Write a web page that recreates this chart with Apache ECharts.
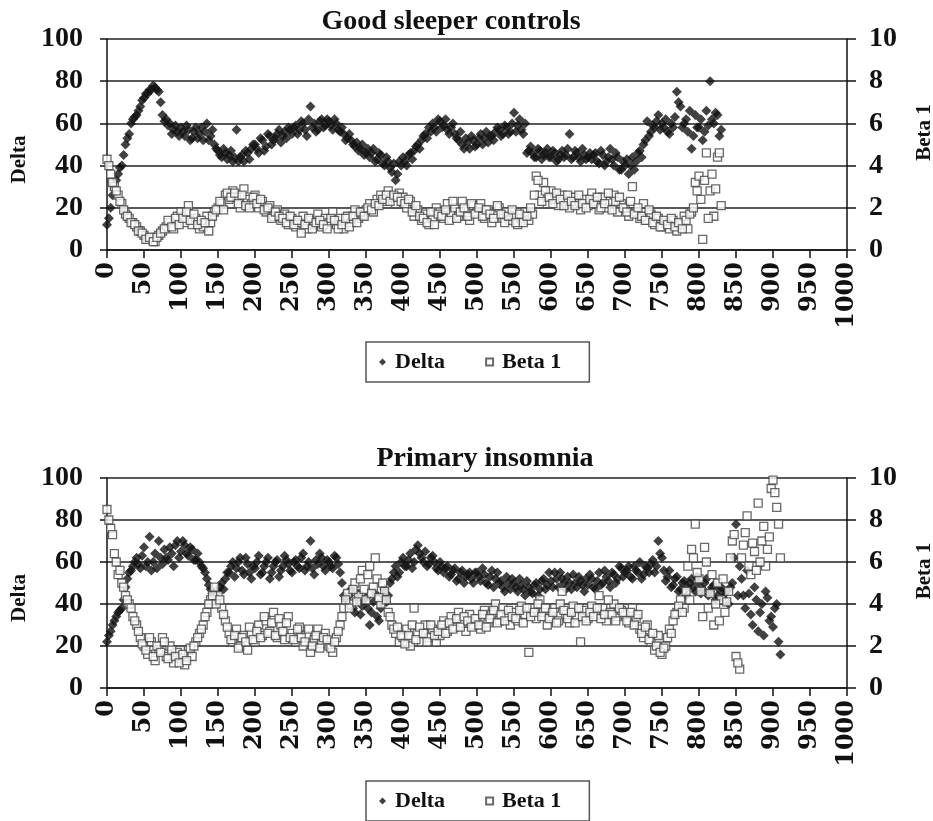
<!DOCTYPE html>
<html>
<head>
<meta charset="utf-8">
<title>Delta / Beta 1</title>
<script src="https://cdn.jsdelivr.net/npm/echarts@6/dist/echarts.min.js"></script>
<style>
  html, body { margin: 0; padding: 0; background: #fff; }
  #main { width: 933px; height: 821px; }
</style>
</head>
<body>
<div id="main"></div>
<script>
// x step between samples (epoch index); the "2" arrays sit half a step later
var step = 5;

// Good sleeper controls, x = 0..830
var goodDelta = [
  12, 20, 30, 36, 40, 50, 55, 62, 64, 68,
  72, 74, 76, 77, 75, 64, 62, 60, 57, 56,
  58, 54, 57, 53, 58, 55, 52, 60, 54, 50,
  47, 44, 46, 45, 42, 57, 44, 42, 46, 48,
  50, 46, 52, 49, 54, 52, 55, 51, 56, 58,
  55, 59, 57, 60, 54, 68, 60, 57, 62, 59,
  61, 57, 60, 56, 55, 53, 52, 49, 47, 50,
  46, 44, 48, 43, 45, 40, 42, 37, 33, 42,
  44, 40, 46, 47, 50, 52, 55, 58, 60, 56,
  61, 59, 57, 58, 55, 52, 50, 53, 48, 52,
  50, 55, 53, 51, 54, 56, 57, 55, 58, 56,
  65, 59, 57, 60, 47, 46, 44, 47, 45, 48,
  44, 46, 43, 47, 45, 55, 44, 46, 42, 45,
  44, 43, 46, 41, 45, 42, 48, 40, 44, 38,
  40, 36, 44, 42, 47, 50, 61, 56, 58, 64,
  60, 62, 55, 58, 75, 68, 60, 56, 48, 64,
  58, 52, 66, 80, 60, 64, 57
];
var goodDelta2 = [
  15, 26, 33, 39, 45, 53, 60, 63, 66, 71,
  74, 76, 78, 76, 70, 61, 59, 55, 59, 54,
  56, 59, 52, 56, 53, 58, 56, 52, 57, 48,
  45, 48, 43, 47, 44, 42, 45, 47, 43, 50,
  48, 53, 47, 55, 50, 53, 57, 54, 53, 57,
  58, 55, 61, 57, 62, 58, 56, 61, 58, 62,
  59, 62, 57, 58, 52, 55, 50, 51, 48, 45,
  48, 46, 42, 46, 41, 44, 39, 41, 36, 40,
  42, 45, 43, 49, 48, 54, 53, 56, 58, 62,
  58, 62, 55, 60, 53, 56, 48, 51, 54, 49,
  53, 50, 56, 54, 52, 58, 54, 59, 55, 60,
  56, 62, 55, 46, 49, 44, 48, 43, 46, 44,
  47, 42, 45, 44, 48, 43, 47, 44, 48, 43,
  46, 45, 42, 47, 40, 44, 43, 46, 38, 42,
  43, 40, 38, 46, 44, 52, 54, 59, 61, 57,
  58, 56, 60, 63, 70, 58, 62, 66, 54, 58,
  62, 56, 59, 62, 65, 54
];
var goodBeta = [
  4.3, 3.6, 3.0, 2.6, 2.2, 1.7, 1.5, 1.3, 1.1, 0.9,
  0.7, 0.5, 0.6, 0.4, 0.7, 0.9, 1.1, 1.3, 1.0, 1.6,
  1.8, 1.3, 2.1, 1.2, 1.5, 1.0, 1.1, 1.6, 1.3, 1.8,
  2.0, 2.2, 2.6, 2.4, 2.8, 2.5, 2.0, 2.9, 2.4, 2.2,
  2.6, 2.0, 2.3, 1.8, 2.1, 1.6, 1.9, 1.4, 1.7, 1.2,
  1.5, 1.1, 1.3, 1.6, 1.0, 1.4, 1.2, 1.7, 1.1, 1.5,
  1.3, 1.8, 1.2, 1.5, 1.0, 1.6, 1.3, 1.9, 1.5, 1.7,
  1.9, 2.2, 1.8, 2.4, 2.6, 2.3, 2.8, 2.5, 2.2, 2.7,
  2.5, 2.0, 2.3, 1.6, 1.9, 1.4, 1.7, 1.2, 1.5, 2.0,
  1.8, 1.5, 2.2, 1.7, 2.0, 1.6, 2.3, 1.9, 1.4, 2.1,
  1.8, 2.2, 1.5, 1.9, 1.3, 1.7, 2.0, 1.5, 1.8, 1.4,
  1.6, 1.2, 1.5, 1.8, 1.4, 1.7, 3.5, 2.6, 3.2, 2.2,
  2.8, 2.4, 2.1, 2.6, 2.3, 2.0, 2.5, 2.2, 1.9, 2.4,
  2.1, 2.7, 2.3, 1.9, 2.5, 2.0, 2.3, 2.6, 1.8, 2.2,
  2.0, 1.6, 3.0, 1.8, 1.5, 2.2, 1.4, 1.7, 1.2, 1.5,
  1.1, 1.3, 1.0, 1.4, 0.9, 1.2, 1.6, 1.0, 1.8, 3.2,
  3.5, 0.5, 4.6, 2.8, 1.6, 4.4, 2.1
];
var goodBeta2 = [
  4.0, 3.2, 2.8, 2.3, 1.9, 1.6, 1.3, 1.2, 0.9, 0.8,
  0.5, 0.6, 0.4, 0.6, 0.8, 1.0, 1.4, 1.1, 1.5, 1.2,
  1.5, 1.8, 1.4, 1.7, 1.2, 1.4, 1.3, 0.9, 1.6, 1.9,
  2.3, 1.9, 2.7, 2.5, 2.7, 2.2, 2.6, 2.1, 2.0, 2.5,
  2.2, 2.4, 1.9, 2.0, 1.5, 1.8, 1.6, 1.5, 1.3, 1.6,
  1.2, 1.4, 0.8, 1.2, 1.5, 1.0, 1.3, 1.4, 1.2, 1.0,
  1.5, 1.4, 1.0, 1.2, 1.5, 1.1, 1.6, 1.3, 1.8, 1.6,
  2.0, 1.9, 2.2, 2.1, 2.4, 2.6, 2.3, 2.6, 2.5, 2.3,
  2.2, 2.4, 1.8, 2.1, 1.6, 1.5, 1.3, 1.8, 1.2, 1.7,
  1.6, 1.9, 1.4, 2.3, 1.5, 1.8, 2.0, 1.6, 2.2, 1.7,
  2.0, 1.6, 1.9, 1.7, 1.5, 2.1, 1.7, 1.3, 1.6, 1.9,
  1.3, 1.7, 1.3, 1.6, 2.0, 2.6, 3.3, 2.3, 2.8, 2.5,
  2.2, 2.7, 2.4, 2.1, 2.6, 2.3, 2.1, 2.6, 2.2, 2.0,
  2.4, 2.2, 2.5, 2.0, 2.2, 2.7, 1.9, 2.3, 2.5, 2.0,
  1.8, 2.3, 1.7, 2.0, 1.6, 1.4, 1.9, 1.3, 1.6, 1.1,
  1.4, 1.2, 1.5, 1.1, 1.3, 1.0, 1.4, 1.7, 2.0, 2.8,
  2.4, 3.3, 1.5, 3.6, 2.9, 4.6
];

// Primary insomnia, x = 0..910
var insDelta = [
  22, 27, 32, 36, 38, 48, 55, 58, 62, 57,
  67, 60, 56, 64, 70, 59, 62, 67, 58, 70,
  65, 68, 63, 66, 61, 60, 57, 52, 47, 43,
  46, 50, 52, 55, 60, 57, 62, 54, 59, 52,
  57, 63, 55, 60, 52, 58, 61, 56, 63, 59,
  55, 61, 57, 64, 58, 70, 54, 59, 62, 56,
  60, 57, 62, 55, 44, 40, 47, 36, 45, 39,
  43, 30, 41, 34, 38, 47, 44, 52, 58, 55,
  62, 58, 64, 60, 68, 62, 65, 59, 63, 57,
  60, 55, 58, 54, 57, 52, 56, 53, 55, 50,
  55, 51, 54, 49, 56, 52, 50, 48, 53, 47,
  50, 46, 49, 44, 48, 45, 50, 47, 52, 49,
  51, 55, 48, 52, 47, 50, 54, 48, 51, 46,
  49, 52, 47, 55, 50, 53, 48, 54, 52, 57,
  55, 58, 52, 56, 60, 54, 57, 59, 55, 70,
  62, 51, 56, 49, 53, 47, 51, 48, 52, 46,
  50, 47, 52, 46, 49, 44, 48, 45, 40, 50,
  78, 58, 44, 56, 35, 48, 27, 40, 46, 32,
  29, 40, 16
];
var insDelta2 = [
  25, 30, 34, 37, 42, 52, 56, 60, 59, 63,
  58, 72, 60, 57, 62, 66, 61, 64, 68, 62,
  70, 64, 67, 61, 64, 58, 55, 49, 45, 41,
  48, 47, 55, 58, 53, 60, 56, 62, 55, 58,
  60, 54, 58, 62, 55, 60, 53, 58, 61, 56,
  60, 58, 62, 56, 60, 57, 61, 64, 58, 61,
  58, 63, 59, 50, 42, 44, 38, 42, 35, 42,
  38, 36, 45, 32, 44, 41, 50, 55, 53, 60,
  58, 61, 57, 66, 64, 60, 58, 62, 60, 56,
  58, 57, 53, 56, 51, 55, 50, 54, 52, 55,
  53, 57, 50, 53, 48, 55, 51, 46, 50, 52,
  48, 52, 47, 51, 46, 49, 44, 51, 47, 55,
  48, 52, 55, 50, 53, 47, 50, 53, 49, 52,
  54, 48, 51, 49, 56, 51, 55, 50, 58, 53,
  56, 53, 58, 55, 52, 58, 55, 61, 58, 64,
  56, 53, 48, 52, 46, 50, 44, 50, 48, 53,
  45, 50, 44, 48, 42, 47, 43, 46, 48, 62,
  44, 52, 38, 45, 30, 42, 36, 25, 43, 34,
  38, 22
];
var insBeta = [
  8.5, 7.6, 6.4, 5.4, 5.0, 4.4, 4.0, 3.4, 3.0, 2.4,
  2.0, 1.6, 2.2, 1.3, 1.8, 2.4, 1.5, 2.0, 1.2, 1.7,
  1.4, 1.1, 1.8, 1.5, 2.2, 2.6, 3.0, 3.6, 4.2, 4.8,
  4.4, 3.8, 3.2, 2.6, 2.2, 2.8, 2.0, 2.5, 1.8, 2.6,
  2.2, 3.0, 2.5, 3.2, 2.7, 3.6, 2.4, 3.0, 2.3, 3.4,
  2.6, 2.2, 2.9, 2.0, 2.5, 1.7, 2.3, 2.8, 2.1, 2.6,
  2.0, 1.7, 2.4, 3.0, 3.8, 4.5, 4.0, 5.0, 4.4, 5.6,
  4.2, 5.8, 4.8, 5.2, 4.0, 4.6, 3.6, 3.0, 2.6, 2.2,
  2.4, 2.8, 2.0, 3.8, 2.6, 2.2, 3.0, 2.4, 2.8, 2.2,
  2.5, 3.2, 2.7, 3.4, 2.9, 3.6, 3.1, 2.7, 3.5, 3.0,
  3.3, 2.8, 3.7, 3.1, 3.5, 4.0, 3.2, 3.8, 3.4, 3.0,
  3.6, 3.2, 3.9, 3.5, 1.7, 3.8, 3.3, 4.2, 3.6, 3.0,
  3.4, 3.8, 3.2, 4.6, 3.5, 3.1, 3.9, 3.4, 2.2, 3.7,
  3.3, 3.9, 3.5, 4.4, 3.8, 3.2, 3.6, 4.0, 3.4, 3.7,
  3.5, 3.1, 3.8, 3.3, 2.8, 2.4, 3.0, 2.2, 1.8, 2.5,
  1.6, 2.0, 2.8, 3.2, 3.6, 4.2, 3.8, 5.8, 6.6, 7.8,
  5.2, 3.4, 6.0, 4.5, 3.0, 5.0, 4.2, 3.6, 4.6, 7.0,
  1.5, 0.9, 6.8, 8.2, 5.4, 6.5, 8.8, 7.0, 5.8, 7.2,
  9.9, 8.6, 6.2
];
var insBeta2 = [
  8.0, 7.3, 6.0, 5.6, 4.8, 4.2, 3.8, 3.2, 2.7, 2.1,
  1.8, 2.4, 1.5, 2.0, 1.7, 2.2, 1.4, 1.8, 1.5, 1.2,
  1.6, 1.3, 1.9, 2.0, 2.4, 2.8, 3.4, 4.0, 4.4, 4.0,
  4.2, 3.5, 2.9, 2.3, 2.5, 1.9, 2.4, 2.2, 2.9, 2.3,
  2.7, 2.4, 3.4, 2.6, 3.1, 2.5, 3.3, 2.7, 3.1, 2.4,
  2.3, 2.8, 2.4, 2.2, 2.8, 2.0, 2.5, 1.9, 2.4, 2.3,
  1.9, 2.2, 2.7, 3.4, 4.2, 3.8, 4.7, 4.1, 5.2, 4.7,
  5.4, 4.5, 6.2, 4.3, 5.0, 4.2, 3.4, 2.8, 2.9, 2.5,
  2.1, 2.5, 3.0, 2.3, 2.9, 2.6, 2.2, 3.0, 2.5, 2.7,
  3.0, 2.6, 3.1, 2.8, 3.3, 2.9, 3.4, 3.2, 2.9, 3.3,
  3.0, 3.5, 2.9, 3.3, 3.7, 3.1, 3.5, 3.2, 3.7, 3.4,
  3.3, 3.7, 3.1, 3.8, 3.4, 3.6, 4.0, 3.4, 3.8, 3.3,
  3.6, 3.1, 4.0, 3.7, 3.3, 3.6, 3.1, 3.8, 3.4, 3.2,
  3.6, 3.4, 3.8, 3.3, 3.5, 4.2, 3.5, 3.2, 3.8, 3.6,
  3.2, 3.6, 3.0, 3.5, 2.6, 2.9, 2.3, 2.6, 2.0, 1.7,
  1.9, 2.4, 2.6, 3.5, 3.9, 3.6, 4.6, 4.2, 6.2, 5.5,
  4.6, 6.7, 3.8, 5.4, 4.0, 3.2, 5.2, 4.1, 6.2, 7.3,
  1.2, 6.2, 7.4, 5.8, 6.9, 5.6, 6.0, 7.7, 6.6, 9.5,
  9.3, 7.8
];

var titles = ["Good sleeper controls", "Primary insomnia"];
var legendNames = ["Delta", "Beta 1"];

function pairs(arr, offset) {
  var out = [];
  for (var i = 0; i < arr.length; i++) {
    out.push([offset + i * step, arr[i]]);
  }
  return out;
}

var font = "Liberation Serif";
var labelStyle = { fontFamily: font, fontWeight: "bold", fontSize: 28, color: "#111" };

function xAxisOf(gi) {
  return {
    type: "value", gridIndex: gi, min: 0, max: 1000, interval: 50,
    axisLine: { lineStyle: { color: "#111", width: 1.5 } },
    axisTick: { length: 8, lineStyle: { color: "#111", width: 1.5 } },
    // rotated labels in the source are wide, DejaVu Serif gets closer than Times
    axisLabel: {
      rotate: 90, margin: 12, fontFamily: "DejaVu Serif", fontWeight: "bold", fontSize: 24, color: "#111",
      formatter: function (v) { return String(v); },
    },
    splitLine: { show: false },
  };
}

function yAxesOf(gi) {
  return [
    {
      type: "value", gridIndex: gi, min: 0, max: 100, interval: 20,
      name: "Delta", nameLocation: "middle", nameRotate: 90, nameGap: 75,
      nameTextStyle: { fontFamily: font, fontWeight: "bold", fontSize: 21, color: "#111", padding: [0, 30, 0, 0] },
      axisLine: { show: true, lineStyle: { color: "#111", width: 1.5 } },
      axisTick: { show: true, length: 7, lineStyle: { color: "#111", width: 1.5 } },
      axisLabel: Object.assign({ margin: 24 }, labelStyle),
      splitLine: { lineStyle: { color: "#222", width: 1.5 } },
    },
    {
      type: "value", gridIndex: gi, position: "right", min: 0, max: 10, interval: 2,
      name: "Beta 1", nameLocation: "middle", nameRotate: 90, nameGap: 67,
      nameTextStyle: { fontFamily: font, fontWeight: "bold", fontSize: 21, color: "#111", padding: [0, 0, 0, 24] },
      axisLine: { show: true, lineStyle: { color: "#111", width: 1.5 } },
      axisTick: { show: true, length: 9, lineStyle: { color: "#111", width: 1.5 } },
      axisLabel: Object.assign({ margin: 22 }, labelStyle),
      splitLine: { show: false },
    },
  ];
}

function legendOf(top) {
  return {
    data: [
      { name: legendNames[0], icon: "diamond" },
      { name: legendNames[1], icon: "rect" },
    ],
    left: 366, top: top,
    itemWidth: 7, itemHeight: 7, itemGap: 40,
    padding: [9, 28, 9, 13],
    borderColor: "#555", borderWidth: 1.5,
    textStyle: { fontFamily: font, fontWeight: "bold", fontSize: 22, color: "#111", padding: [0, 0, 0, 4] },
  };
}

function seriesOf(gi, delta, delta2, beta, beta2) {
  return [
    {
      name: legendNames[0], type: "scatter", xAxisIndex: gi, yAxisIndex: gi * 2,
      symbol: "diamond", symbolSize: 10,
      itemStyle: { color: "#111" },
      data: pairs(delta, 0).concat(pairs(delta2, step / 2)),
    },
    {
      name: legendNames[1], type: "scatter", xAxisIndex: gi, yAxisIndex: gi * 2 + 1,
      symbol: "rect", symbolSize: 8,
      itemStyle: { color: "#fff", borderColor: "#444", borderWidth: 1.3 },
      data: pairs(beta, 0).concat(pairs(beta2, step / 2)),
    },
  ];
}

var option = {
  animation: false,
  backgroundColor: "#fff",
  title: [
    { text: titles[0], left: 446, textAlign: "center", top: 3,
      textStyle: { fontFamily: font, fontWeight: "bold", fontSize: 28, color: "#111" } },
    { text: titles[1], left: 480, textAlign: "center", top: 440,
      textStyle: { fontFamily: font, fontWeight: "bold", fontSize: 28, color: "#111" } },
  ],
  legend: [legendOf(342), legendOf(781)],
  grid: [
    { left: 107, right: 86, top: 39, height: 211, outerBoundsMode: "none", containLabel: false },
    { left: 107, right: 86, top: 478, height: 210, outerBoundsMode: "none", containLabel: false },
  ],
  xAxis: [xAxisOf(0), xAxisOf(1)],
  yAxis: yAxesOf(0).concat(yAxesOf(1)),
  series: seriesOf(0, goodDelta, goodDelta2, goodBeta, goodBeta2)
    .concat(seriesOf(1, insDelta, insDelta2, insBeta, insBeta2)),
};

var myChart = echarts.init(document.getElementById("main"));
myChart.setOption(option);
</script>
</body>
</html>
